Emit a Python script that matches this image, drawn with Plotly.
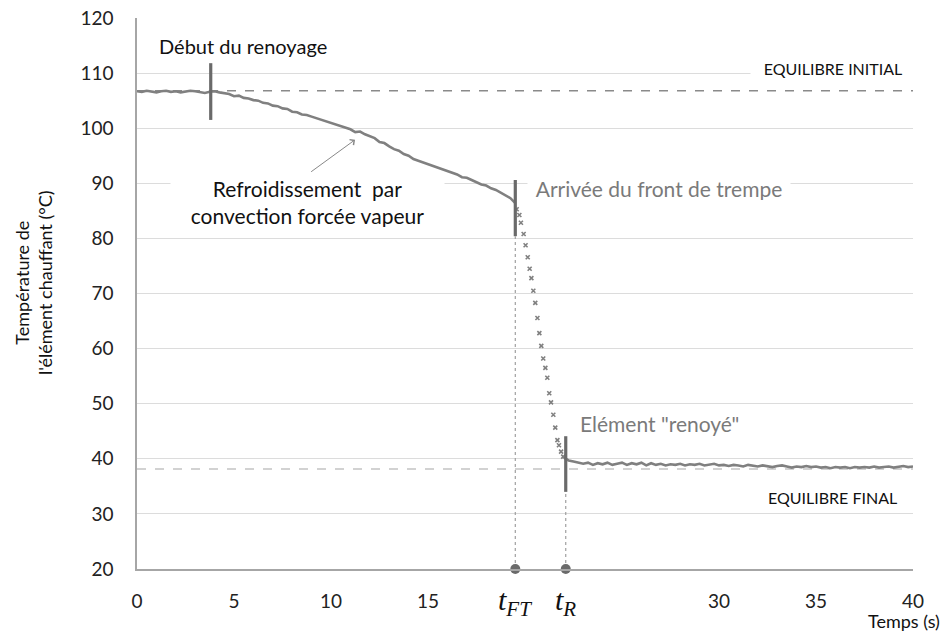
import numpy as np
import plotly.graph_objects as go

# ---------------- data ----------------
t_pre = np.round(np.arange(0, 19.51, 0.25), 2)
temp_pre = [
    106.7, 106.6, 106.8, 106.7, 106.5, 106.7, 106.8, 106.6, 106.7, 106.5,
    106.6, 106.8, 106.7, 106.6, 106.4, 106.6, 106.7,
    106.5, 106.3, 106.2, 105.8, 105.9, 105.5, 105.4, 105.1, 105.0, 104.6,
    104.5, 104.1, 104.0, 103.6, 103.5, 103.0, 102.9, 102.5, 102.4, 102.1,
    101.8, 101.6, 101.2, 100.9,
    100.7, 100.4, 100.1, 99.8, 99.3, 99.4, 98.9, 98.6, 98.2, 97.5,
    97.3, 96.7, 96.2, 95.9, 95.3, 95.0, 94.4, 94.1, 93.8, 93.4,
    93.2, 92.8, 92.6, 92.2, 91.9, 91.6, 91.1, 91.0, 90.6, 90.2,
    89.8, 89.6, 89.1, 88.8, 88.3, 87.9, 87.3, 86.4,
]

t_drop = [19.57, 19.71, 19.79, 19.93, 20.03, 20.14, 20.24, 20.33, 20.43, 20.53,
          20.64, 20.74, 20.84, 20.94, 21.05, 21.15, 21.25, 21.34, 21.46, 21.56,
          21.67, 21.75, 21.86, 21.97]
temp_drop = [85.3, 84.25, 82.85, 80.8, 78.75, 76.57, 74.5, 72.8, 70.5, 68.3,
             65.55, 62.8, 60.5, 58.2, 56.5, 54.7, 51.9, 50.25, 48.0, 45.65,
             43.4, 42.45, 41.3, 40.4]

t_post = np.round(np.arange(22.0, 40.01, 0.25), 2)
temp_post = [
    40.2, 39.7, 39.5, 39.3, 39.1, 39.3, 38.9, 39.2, 39.0, 39.3,
    38.9, 39.1, 39.3, 38.9, 39.2, 39.0, 39.3, 38.8, 39.2, 38.9,
    39.1, 38.8, 39.0, 38.9, 39.1, 38.8, 39.0, 38.9, 39.1, 38.8,
    38.9, 39.1, 38.8, 38.9, 38.7, 38.9, 38.8, 38.6, 38.9, 38.7,
    38.6, 38.8, 38.7, 38.5, 38.7, 38.8, 38.6, 38.4, 38.6, 38.5,
    38.7, 38.5, 38.6, 38.4, 38.5, 38.3, 38.5, 38.4, 38.5, 38.3,
    38.5, 38.4, 38.5, 38.4, 38.6, 38.4, 38.5, 38.6, 38.4, 38.5,
    38.7, 38.5, 38.6,
]

eq_initial = 106.8
eq_final = 38.15
t_debut = 3.8
t_ft = 19.5
t_r = 22.1
marker_spans = {t_debut: (101.5, 111.8), t_ft: (80.4, 90.6), t_r: (34.0, 44.1)}

x_tickvals = [0, 5, 10, 15, 30, 35, 40]
x_ticktext = ["0", "5", "10", "15", "30", "35", "40"]
y_tickvals = [20, 30, 40, 50, 60, 70, 80, 90, 100, 110, 120]
special_labels = {t_ft: "<i>t</i><sub><i>FT</i></sub>", t_r: "<i>t</i><sub><i>R</i></sub>"}

n_pre = min(len(t_pre), len(temp_pre))
n_post = min(len(t_post), len(temp_post))

FONT = "Lato"
CURVE = "#808080"
GREYTXT = "#7a7a7a"
DARK = "#111111"

# plot-area geometry (pixels of the 946x634 page)
L, R, T, B = 137, 913, 18, 569


def px_x(p):
    return (p - L) / float(R - L)


def px_y(p):
    return (B - p) / float(B - T)


fig = go.Figure()

# equilibrium dashed lines
fig.add_trace(go.Scatter(x=[0, 40], y=[eq_initial, eq_initial], mode="lines",
                         line=dict(color="#8a8a8a", width=1.3, dash="dash"),
                         hoverinfo="skip", showlegend=False))
fig.add_trace(go.Scatter(x=[0, 40], y=[eq_final, eq_final], mode="lines",
                         line=dict(color="#c4c4c4", width=1.3, dash="dash"),
                         hoverinfo="skip", showlegend=False))

# vertical dotted guides
for tv in (t_ft, t_r):
    fig.add_trace(go.Scatter(x=[tv, tv], y=[20, marker_spans[tv][0]], mode="lines",
                             line=dict(color="#a0a0a0", width=1.2, dash="dot"),
                             hoverinfo="skip", showlegend=False))

# curve
fig.add_trace(go.Scatter(x=t_pre[:n_pre], y=temp_pre[:n_pre], mode="lines",
                         line=dict(color=CURVE, width=2.6), showlegend=False))
fig.add_trace(go.Scatter(x=t_drop, y=temp_drop, mode="markers",
                         marker=dict(symbol="x-thin", size=4, color=CURVE,
                                     line=dict(color=CURVE, width=1.6)),
                         showlegend=False))
fig.add_trace(go.Scatter(x=t_post[:n_post], y=temp_post[:n_post], mode="lines",
                         line=dict(color=CURVE, width=2.6), showlegend=False))

# thick vertical markers
for tv, (y0, y1) in marker_spans.items():
    fig.add_trace(go.Scatter(x=[tv, tv], y=[y0, y1], mode="lines",
                             line=dict(color="#6a6a6a", width=3.2),
                             hoverinfo="skip", showlegend=False))

# bottom dots
fig.add_trace(go.Scatter(x=[t_ft, t_r], y=[20, 20], mode="markers",
                         marker=dict(size=10, color="#6a6a6a"),
                         cliponaxis=False, showlegend=False))


def note(px, py, text, size, color=DARK, **kw):
    d = dict(x=px_x(px), y=px_y(py), xref="paper", yref="paper", text=text,
             showarrow=False, xanchor="center", yanchor="middle",
             font=dict(family=FONT, size=size, color=color))
    d.update(kw)
    return d


annotations = [
    note(307.5, 201.5, "Refroidissement  par<br>convection forcée vapeur", 21,
         bgcolor="white", width=271, height=50, align="center"),
    note(659, 188, "Arrivée du front de trempe", 21, GREYTXT,
         bgcolor="white", width=260, height=24),
    note(833, 68, "EQUILIBRE INITIAL", 16, bgcolor="white", width=162, height=20),
    note(832, 497, "EQUILIBRE FINAL", 16),
    note(659, 423, "Elément \"renoyé\"", 21, GREYTXT),
    note(243, 46, "Début du renoyage", 20),
    dict(x=px_x(942), y=px_y(621), xref="paper", yref="paper", xanchor="right",
         yanchor="middle", text="Temps (s)", showarrow=False,
         font=dict(family=FONT, size=18, color=DARK)),
    note(33, 283, "Température de<br>l'élément chauffant (°C)", 18, textangle=-90),
    dict(x=11.24, y=97.9, ax=8.9, ay=91.9, xref="x", yref="y", axref="x", ayref="y",
         text="", showarrow=True, arrowhead=4, arrowsize=1.3, arrowwidth=1,
         arrowcolor="#888888"),
]
for tv, lab in special_labels.items():
    annotations.append(dict(x=tv, y=px_y(602), xref="x", yref="paper",
                            xanchor="center", yanchor="middle",
                            text=lab, showarrow=False,
                            font=dict(family="Liberation Serif", size=30, color=DARK)))

fig.update_layout(
    width=946, height=634,
    margin=dict(l=L, r=946 - R, t=T, b=634 - B, autoexpand=False),
    paper_bgcolor="white", plot_bgcolor="white",
    showlegend=False,
    annotations=annotations,
    xaxis=dict(range=[0, 40], tickvals=x_tickvals, ticktext=x_ticktext,
               showgrid=False, zeroline=False, showline=True, linecolor="#a6a6a6",
               linewidth=1.5, ticks="", ticklabelstandoff=14, automargin=False,
               tickfont=dict(family=FONT, size=19, color="#222222")),
    yaxis=dict(range=[20, 120], tickvals=y_tickvals, showgrid=True,
               gridcolor="#dcdcdc", gridwidth=1, zeroline=False, showline=True,
               linecolor="#a6a6a6", linewidth=1.5, ticks="", ticklabelstandoff=18,
               automargin=False,
               tickfont=dict(family=FONT, size=19, color="#222222")),
)

fig.write_html("out.html", config={"displayModeBar": False},
               post_script="document.body.style.margin='0';document.body.style.padding='0';")
